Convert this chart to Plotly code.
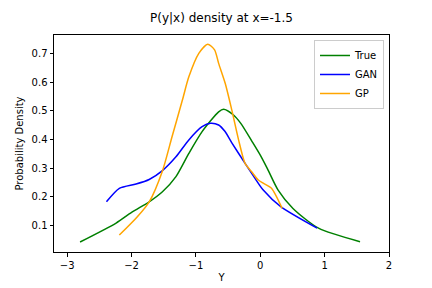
import plotly.graph_objects as go

# True density
true_x = [-2.80, -2.24, -2.0, -1.726, -1.52, -1.31, -1.11, -0.904, -0.647, -0.57, -0.416, -0.30, -0.134, 0.0, 0.11, 0.277, 0.508, 0.905, 1.55]
true_y = [0.042, 0.108, 0.145, 0.182, 0.217, 0.270, 0.351, 0.427, 0.496, 0.505, 0.485, 0.455, 0.395, 0.345, 0.298, 0.223, 0.159, 0.090, 0.043]

# GAN density
gan_x = [-2.39, -2.19, -1.93, -1.726, -1.52, -1.31, -1.11, -0.904, -0.775, -0.647, -0.55, -0.442, -0.236, -0.082, 0.046, 0.318, 0.883]
gan_y = [0.182, 0.229, 0.244, 0.260, 0.291, 0.339, 0.398, 0.444, 0.456, 0.450, 0.428, 0.388, 0.316, 0.264, 0.223, 0.165, 0.090]

# GP density
gp_x = [-2.19, -1.91, -1.726, -1.52, -1.37, -1.21, -1.11, -0.955, -0.817, -0.71, -0.647, -0.544, -0.442, -0.339, -0.236, -0.134, -0.03, 0.046, 0.174, 0.339]
gp_y = [0.066, 0.130, 0.182, 0.290, 0.410, 0.537, 0.618, 0.700, 0.732, 0.712, 0.665, 0.595, 0.502, 0.400, 0.316, 0.287, 0.258, 0.247, 0.229, 0.159]

x_ticks = [-3, -2, -1, 0, 1, 2]
y_ticks = [0.1, 0.2, 0.3, 0.4, 0.5, 0.6, 0.7]

font = "DejaVu Sans"

# the page body adds an 8px margin at top/left, so the figure is 8px smaller
W, H = 424, 280

fig = go.Figure()
fig.add_trace(go.Scatter(x=true_x, y=true_y, mode="lines", name="True",
                         line=dict(color="green", width=1.5, shape="spline", smoothing=0.7)))
fig.add_trace(go.Scatter(x=gan_x, y=gan_y, mode="lines", name="GAN",
                         line=dict(color="blue", width=1.5, shape="spline", smoothing=0.7)))
fig.add_trace(go.Scatter(x=gp_x, y=gp_y, mode="lines", name="GP",
                         line=dict(color="orange", width=1.5, shape="spline", smoothing=0.7)))

fig.update_layout(
    width=W, height=H,
    margin=dict(l=46, r=43, t=27, b=36, autoexpand=False),
    paper_bgcolor="white", plot_bgcolor="white",
    font=dict(family=font, size=10, color="black"),
    title=dict(text="P(y|x) density at x=-1.5", x=0.5, xref="paper",
               y=1 - 10 / H, yref="container", yanchor="middle", automargin=False,
               font=dict(family=font, size=12, color="black")),
    showlegend=True,
    legend=dict(x=0.985, y=0.977, xanchor="right", yanchor="top",
                bgcolor="rgba(255,255,255,0.8)", bordercolor="#cccccc", borderwidth=1,
                font=dict(family=font, size=10, color="black"),
                tracegroupgap=0, itemwidth=30),
    xaxis=dict(range=[-3.205, 2.0], tickvals=x_ticks, ticks="outside", ticklen=3.5,
               tickcolor="black", showline=True, linecolor="black", linewidth=1,
               mirror=True, showgrid=False, zeroline=False, automargin=False,
               title=dict(text="Y", standoff=4, font=dict(family=font, size=10))),
    yaxis=dict(range=[0.007, 0.764], tickvals=y_ticks, tickformat=".1f", ticks="outside",
               ticklen=3.5, tickcolor="black", showline=True, linecolor="black", linewidth=1,
               mirror=True, showgrid=False, zeroline=False, automargin=False,
               title=dict(text="Probability Density", standoff=6, font=dict(family=font, size=10))),
)

fig.write_html("out.html")
